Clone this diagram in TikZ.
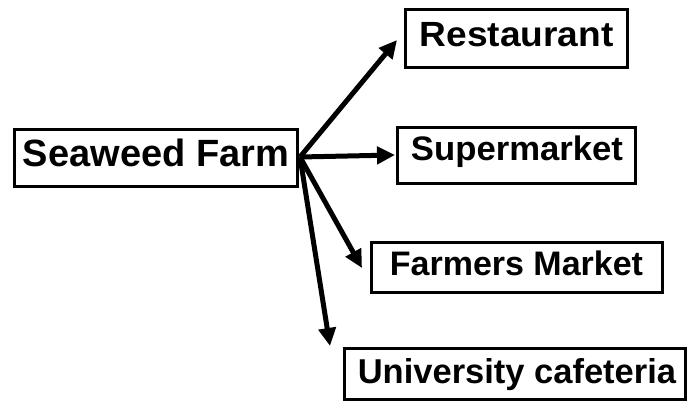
\documentclass[tikz,border=0pt]{standalone}
\usepackage{fontspec}
\setmainfont{Liberation Sans}
\usetikzlibrary{arrows.meta}
\begin{document}
\begin{tikzpicture}[x=1pt,y=-1pt,
  box/.style={draw=black, line width=3pt, inner sep=0pt, rectangle},
  lbl/.style={anchor=base, inner sep=0pt, font=\bfseries},
  conn/.style={line width=5pt, -{Triangle[length=18pt,width=17pt]}}]
\useasboundingbox (0,0) rectangle (687,401);
% boxes
\node[box, minimum width=283pt, minimum height=57pt] (sf) at (155.5,157.5) {};
\node[box, minimum width=222pt, minimum height=58pt] (rest) at (516,39) {};
\node[box, minimum width=238pt, minimum height=56pt] (sup) at (516,155) {};
\node[box, minimum width=291pt, minimum height=50pt] (fm) at (516.5,267) {};
\node[box, minimum width=341pt, minimum height=51pt] (uc) at (514.5,373.5) {};
% labels
\node[lbl, font=\fontsize{38}{40}\selectfont\bfseries] (sft) at (156,166) {Seaweed Farm};
\node[lbl, font=\fontsize{35}{38}\selectfont\bfseries] (restt) at (516.5,46.5) {\scalebox{1.06}[1]{Restaurant}};
\node[lbl, font=\fontsize{34}{37}\selectfont\bfseries] (supt) at (517,160.5) {\scalebox{1.02}[1]{Supermarket}};
\node[lbl, font=\fontsize{34}{37}\selectfont\bfseries] (fmt) at (516.5,275.5) {Farmers Market};
\node[lbl, font=\fontsize{34.5}{37}\selectfont\bfseries] (uct) at (517,383) {University cafeteria};
% connector points
\coordinate (o) at (300,157);
\coordinate (trest) at (397,40);
\coordinate (tsup) at (395,155);
\coordinate (tfm) at (362,268);
\coordinate (tuc) at (330,346);
\draw[conn] (o) -- (trest);
\draw[conn] (o) -- (tsup);
\draw[conn] (o) -- (tfm);
\draw[conn] (o) -- (tuc);
\end{tikzpicture}
\end{document}
